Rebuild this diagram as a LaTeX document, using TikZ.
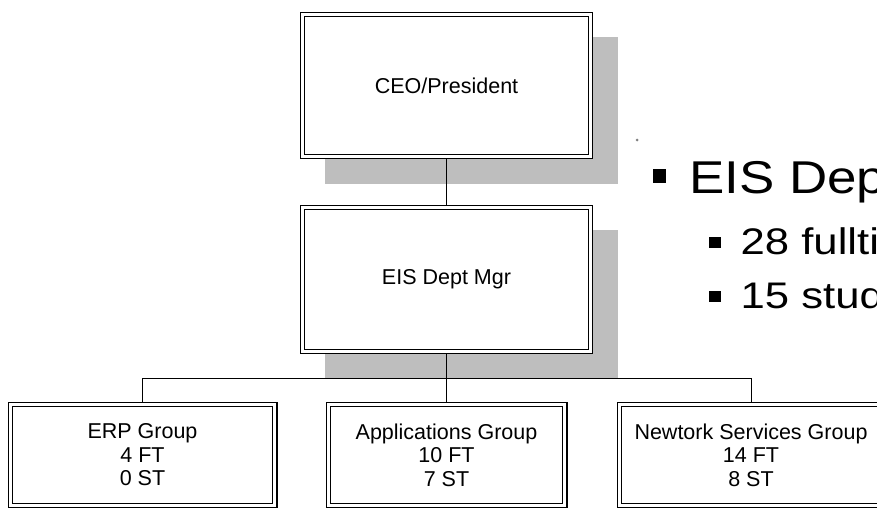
\documentclass[tikz,border=0pt]{standalone}
\usepackage{fontspec}
\usepackage{graphicx}
\setmainfont{Liberation Sans}
\usetikzlibrary{backgrounds}
\definecolor{shadowgray}{HTML}{BEBEBE}
\begin{document}
\begin{tikzpicture}[x=1pt,y=-1pt,
  box/.style={rectangle, draw=black, double=white, line width=1.1pt, double distance=3.2pt,
    fill=white, inner sep=0pt, outer sep=2.7pt, align=center,
    font=\fontsize{21.5}{23.5}\selectfont},
  boxshadow/.style={fill=shadowgray},
  link/.style={draw=black, line width=1pt},
  bigtxt/.style={anchor=base west, inner sep=0pt, font=\fontsize{46}{50}\selectfont},
  midtxt/.style={anchor=base west, inner sep=0pt, font=\fontsize{37}{40}\selectfont},
  bulletsq/.style={rectangle, fill=black, inner sep=0pt}
]
\useasboundingbox (0,0) rectangle (877,509);
\clip (0,0) rectangle (877,509);

% boxes
\node[box, minimum width=287.6pt, minimum height=141.6pt] (ceo) at (446.5,85.5) {CEO/President};
\node[box, minimum width=287.6pt, minimum height=143.6pt] (mgr) at (446.5,279.5) {EIS Dept Mgr};
\node[box, minimum width=264.6pt, minimum height=100.6pt] (erp) at (142.5,455) {ERP Group\\4 FT\\0 ST};
\node[box, minimum width=236.6pt, minimum height=100.6pt] (apps) at (446.5,455) {Applications Group\\10 FT\\7 ST};
\node[box, minimum width=262.6pt, minimum height=100.6pt] (net) at (751,455) {Newtork Services Group\\14 FT\\8 ST};

\begin{scope}[on background layer]
  \fill[boxshadow] ([shift={(25,25)}]ceo.north west) rectangle ([shift={(25,25)}]ceo.south east);
  \fill[boxshadow] ([shift={(25,25)}]mgr.north west) rectangle ([shift={(25,24)}]mgr.south east);
  \draw[link] (ceo.south) -- (mgr.north);
  \draw[link] (mgr.south) -- (apps.north);
  \draw[link] (erp.north) -- ++(0,-24) -| (net.north);
\end{scope}

% bullet text
\node[circle, fill=gray, inner sep=0pt, minimum size=3pt] (dot) at (637,140) {};
\node[bulletsq, minimum width=13pt, minimum height=14pt] (b1) at (659.5,176) {};
\node[bigtxt] (t1) at (689,193) {\scalebox{1.15}[1]{EIS Department}};
\node[bulletsq, minimum width=12pt, minimum height=11pt] (b2) at (715,242.5) {};
\node[midtxt] (t2) at (740.5,254) {\scalebox{1.18}[1]{28 fulltime}};
\node[bulletsq, minimum width=12pt, minimum height=11pt] (b3) at (715,296.5) {};
\node[midtxt] (t3) at (740.5,308) {\scalebox{1.18}[1]{15 students}};
\end{tikzpicture}
\end{document}
